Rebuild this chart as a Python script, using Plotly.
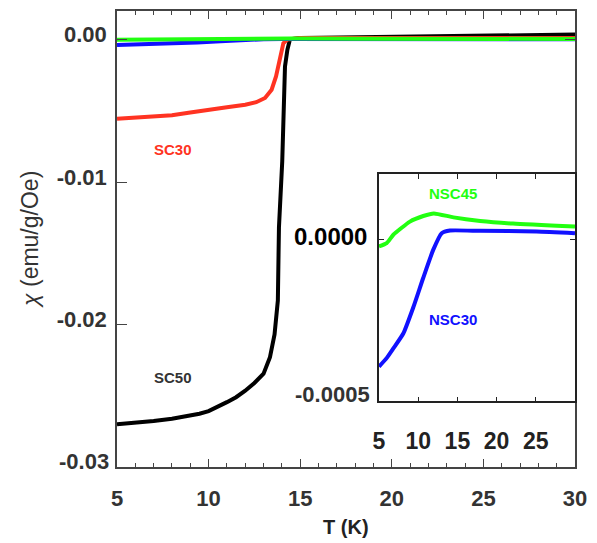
import plotly.graph_objects as go

# ---------------- data ----------------
T_sc50 = [5.0, 6.0, 7.0, 8.0, 9.0, 9.5, 10.0, 10.5, 11.0, 11.5, 12.0, 12.5, 13.0,
          13.35, 13.6, 13.78, 13.84, 14.02, 14.08, 14.17, 14.3, 14.44, 15.0,
          17.5, 20.0, 22.5, 25.0, 27.5, 30.0]
chi_sc50 = [-0.02700, -0.02690, -0.02677, -0.02662, -0.02640, -0.02626, -0.02608,
            -0.02580, -0.02545, -0.02510, -0.02465, -0.02410, -0.02345,
            -0.02229, -0.02070, -0.01832, -0.01320, -0.00853, -0.00490, -0.00189,
            -0.00072, 0.00002, 0.00010, 0.00015, 0.00019, 0.00023, 0.00027,
            0.00031, 0.00035]

T_sc30 = [5.0, 6.0, 7.0, 8.0, 9.0, 10.0, 11.0, 12.0, 12.6, 13.08, 13.44, 13.68,
          13.9, 14.08, 14.3, 15.0, 20.0, 25.0, 30.0]
chi_sc30 = [-0.00557, -0.00550, -0.00543, -0.00532, -0.00512, -0.00490, -0.00475,
            -0.00458, -0.00440, -0.00410, -0.00352, -0.00259, -0.00119, -0.00026,
            0.00000, 0.00010, 0.00010, 0.00010, 0.00010]

T_nsc30 = [5.0, 6.0, 6.83, 8.1, 9.38, 10.65, 11.93, 13.0, 14.06, 17.9, 25.1, 30.0]
chi_nsc30 = [-0.000393, -0.000366, -0.000337, -0.000291, -0.000210, -0.000119,
             -0.0000324, 0.0000183, 0.0000265, 0.0000256, 0.0000235, 0.0000183]

T_nsc45 = [5.0, 5.98, 6.83, 8.95, 10.65, 12.0, 14.5, 17.9, 22.1, 30.0]
chi_nsc45 = [-0.0000223, -0.0000122, 0.0000134, 0.0000540, 0.0000713, 0.0000793,
             0.0000671, 0.0000561, 0.0000479, 0.0000387]

main_xticks = [5, 10, 15, 20, 25, 30]
main_yticks = [-0.03, -0.02, -0.01, 0.0]
main_ytext = ["", "-0.02", "-0.01", "0.00"]
main_ybottom_label = "-0.03"
inset_xticks = [5, 10, 15, 20, 25, 30]
inset_xtext = ["5", "10", "15", "20", "25", ""]
inset_yticks = [-0.0005, 0.0]
inset_ytext = ["", "0.0000"]
inset_ybottom_label = "-0.0005"

RED = "#ff3322"
GREEN = "#22ff11"
BLUE = "#1111ff"
BLACK = "#000000"
FONT = "Liberation Sans"

fig = go.Figure()
# main plot
fig.add_trace(go.Scatter(x=T_sc50, y=chi_sc50, mode="lines", line=dict(color=BLACK, width=4), xaxis="x", yaxis="y"))
fig.add_trace(go.Scatter(x=T_sc30, y=chi_sc30, mode="lines", line=dict(color=RED, width=4), xaxis="x", yaxis="y"))
fig.add_trace(go.Scatter(x=T_nsc30, y=chi_nsc30, mode="lines", line=dict(color=BLUE, width=4), xaxis="x", yaxis="y"))
fig.add_trace(go.Scatter(x=T_nsc45, y=chi_nsc45, mode="lines", line=dict(color=GREEN, width=4), xaxis="x", yaxis="y"))
# inset
fig.add_trace(go.Scatter(x=T_nsc45, y=chi_nsc45, mode="lines", line=dict(color=GREEN, width=4, shape="spline", smoothing=0.5), xaxis="x2", yaxis="y2"))
fig.add_trace(go.Scatter(x=T_nsc30, y=chi_nsc30, mode="lines", line=dict(color=BLUE, width=4, shape="spline", smoothing=0.5), xaxis="x2", yaxis="y2"))

axcol = "#444444"
fig.update_layout(
    width=597, height=543,
    margin=dict(l=117, r=22, t=9, b=76),
    plot_bgcolor="white", paper_bgcolor="white",
    showlegend=False,
    xaxis=dict(domain=[0, 1], range=[5, 30], tickvals=main_xticks,
               ticks="inside", ticklen=8, tickwidth=1.2, tickcolor=axcol,
               showline=True, linecolor=axcol, linewidth=1.5, mirror="ticks",
               showgrid=False, zeroline=False,
               minor=dict(dtick=1, ticklen=4, ticks="inside", tickcolor=axcol, showgrid=False),
               tickfont=dict(family=FONT, size=22, color="#333333", weight="bold"),
               ticklabelstandoff=11),
    yaxis=dict(domain=[0, 1], range=[-0.03, 0.002], tickvals=main_yticks, ticktext=main_ytext,
               ticks="inside", ticklen=10, tickwidth=1.2, tickcolor=axcol,
               showline=True, linecolor=axcol, linewidth=1.5, mirror="ticks",
               showgrid=False, zeroline=False,
               tickfont=dict(family=FONT, size=22, color="#333333", weight="bold"),
               ticklabelstandoff=4, ticklabelshift=-5),
    xaxis2=dict(domain=[0.572, 1.0], anchor="y2", range=[5, 30], tickvals=inset_xticks, ticktext=inset_xtext,
                ticks="inside", ticklen=5, tickcolor="#222222",
                showline=True, linecolor="#222222", linewidth=1.5, mirror="ticks",
                showgrid=False, zeroline=False,
                tickfont=dict(family=FONT, size=23, color="#222222", weight="bold"),
                ticklabelstandoff=18),
    yaxis2=dict(domain=[0.144, 0.642], anchor="x2", range=[-0.0005, 0.0002], tickvals=inset_yticks, ticktext=inset_ytext,
                ticks="inside", ticklen=5, tickcolor="#222222",
                showline=True, linecolor="#222222", linewidth=1.5, mirror="ticks",
                showgrid=False, zeroline=False,
                tickfont=dict(family=FONT, size=24, color="#000000", weight="bold"),
                ticklabelstandoff=5, ticklabelshift=-3),
)

# bottom tick labels raised slightly, as in the reference
fig.add_annotation(x=0, y=-0.03, xref="paper", yref="y", text=main_ybottom_label, showarrow=False,
                   xanchor="right", yanchor="middle", xshift=-6, yshift=6,
                   font=dict(family=FONT, size=22, color="#333333", weight="bold"))
fig.add_annotation(x=0.572, y=-0.0005, xref="paper", yref="y2", text=inset_ybottom_label, showarrow=False,
                   xanchor="right", yanchor="middle", xshift=-7, yshift=7,
                   font=dict(family=FONT, size=22, color="#333333", weight="bold"))

ann_font = dict(family=FONT, size=15, weight="bold")
fig.add_annotation(x=8.06, y=-0.00769, xref="x", yref="y", text="SC30", showarrow=False,
                   font=dict(ann_font, color=RED))
fig.add_annotation(x=8.06, y=-0.02371, xref="x", yref="y", text="SC50", showarrow=False,
                   font=dict(ann_font, color="#333333"))
fig.add_annotation(x=14.44, y=0.000142, xref="x2", yref="y2", text="NSC45", showarrow=False,
                   font=dict(ann_font, color=GREEN))
fig.add_annotation(x=14.44, y=-0.000248, xref="x2", yref="y2", text="NSC30", showarrow=False,
                   font=dict(ann_font, color=BLUE))

# axis titles
fig.add_annotation(x=-0.19, y=0.5, xref="paper", yref="paper", text="<i>χ</i> (emu/g/Oe)",
                   textangle=-90, showarrow=False, xanchor="center", yanchor="middle",
                   font=dict(family=FONT, size=23, color="#333333"))
fig.add_annotation(x=0.5, y=-0.131, xref="paper", yref="paper", text="T (K)",
                   showarrow=False, xanchor="center", yanchor="middle",
                   font=dict(family=FONT, size=20, color="#222222", weight="bold"))

fig.write_html("out.html")
